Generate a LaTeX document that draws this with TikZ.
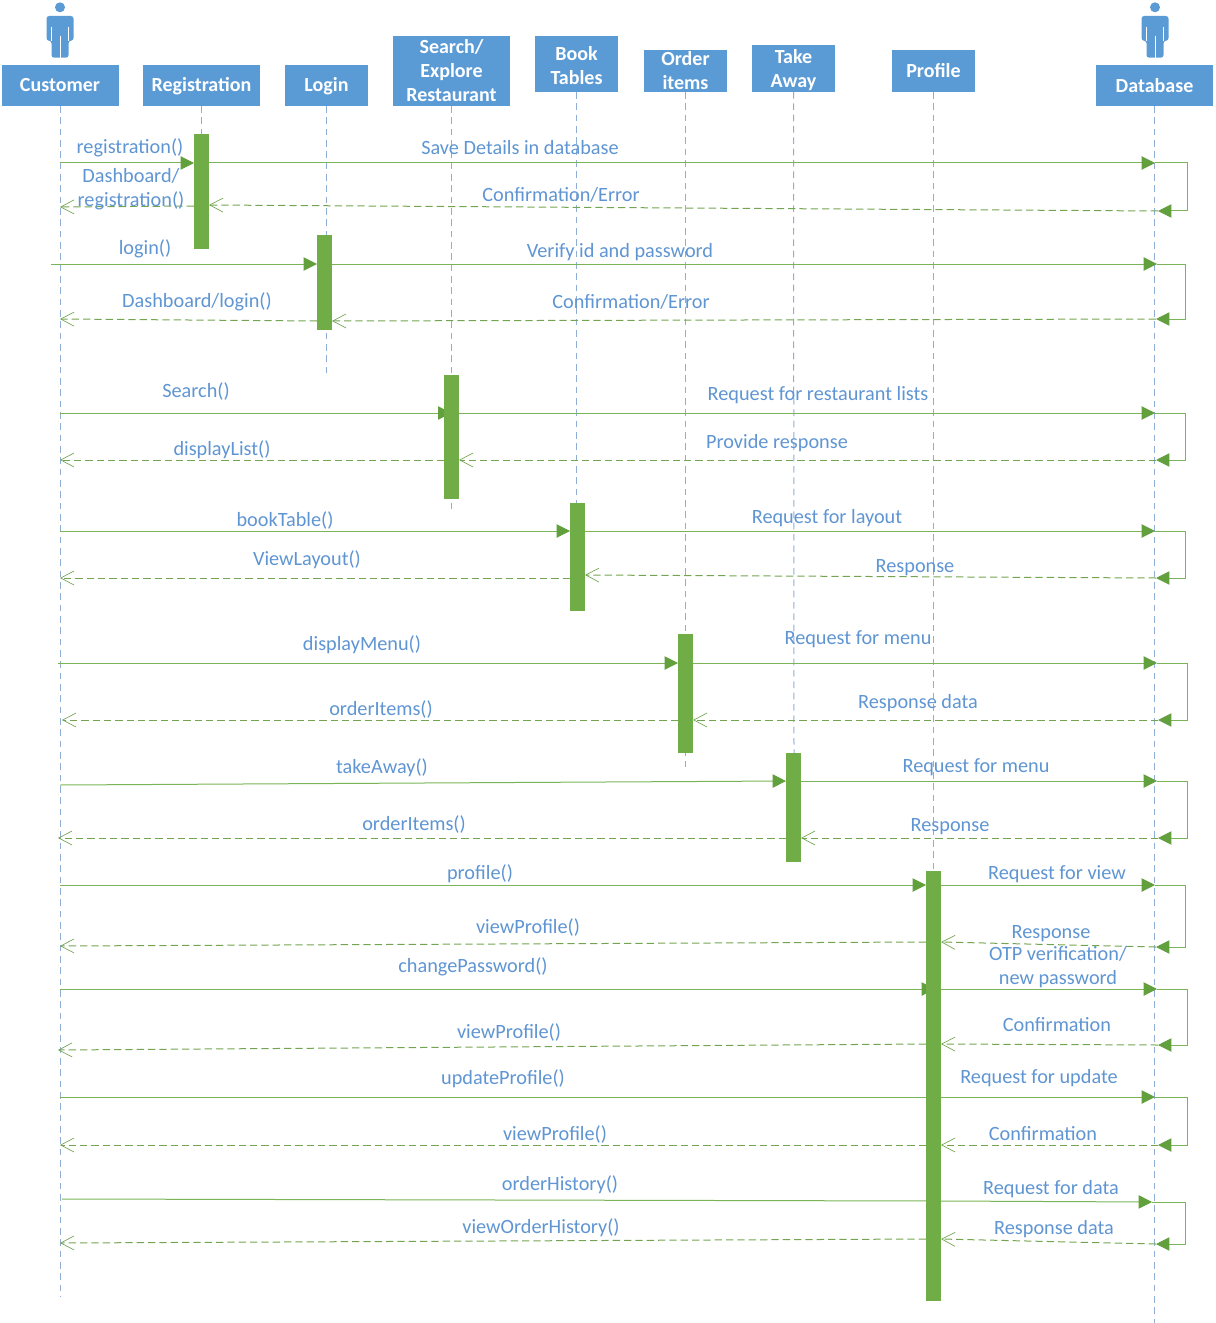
\documentclass[tikz,border=0pt]{standalone}
\usepackage{fontspec}
\setmainfont{Carlito}
\usetikzlibrary{arrows.meta,backgrounds}
\definecolor{headblue}{HTML}{5B9BD5}
\definecolor{textblue}{HTML}{5F95D2}
\definecolor{lifeblue}{HTML}{8FAED6}
\definecolor{bargreen}{HTML}{70AD47}
\definecolor{tipgreen}{HTML}{62A03E}
\tikzset{
  head/.style={fill=headblue, text=white, font=\fontsize{15}{18}\selectfont\bfseries, align=center, inner sep=0pt, outer sep=0pt, minimum width=62.25pt},
  headwide/.style={head, minimum width=87.75pt},
  bar/.style={fill=bargreen, inner sep=0pt, outer sep=0pt, minimum width=11.25pt},
  lifeline/.style={lifeblue, line width=0.75pt, dash pattern=on 5pt off 3.5pt},
  msg/.style={bargreen!92, line width=0.75pt, -{Triangle[length=10pt,width=10pt,color=tipgreen]}},
  reply/.style={bargreen!80!gray, line width=0.75pt, dash pattern=on 5.5pt off 3pt, -{Straight Barb[length=10pt,width=10.5pt,line width=0.5pt]}},
  lbl/.style={text=textblue, font=\fontsize{15.2}{18}\selectfont, align=center, inner sep=0pt},
  actor/.pic={
    \fill[headblue] (0,7.3) circle (5);
    \fill[headblue, rounded corners=2pt] (-13.5,16) -- (13.5,16) -- (13.5,40.7) -- (8.5,40.7) -- (8.5,57.7) -- (-8.5,57.7) -- (-8.5,40.7) -- (-13.5,40.7) -- cycle;
    \draw[white, line width=0.4pt] (0,36) -- (0,57.7);
    \draw[white, line width=0.3pt] (-8.5,27) -- (-8.5,40.7) (8.5,27) -- (8.5,40.7);
  }
}

\begin{document}
\begin{tikzpicture}[x=0.75pt, y=-0.75pt]
  \useasboundingbox (0,0) rectangle (1215,1323);

  \pic at (60,0) {actor};
  \pic at (1155,0) {actor};

  \node[headwide, minimum height=30.75pt] (customer) at (60,85.5) {Customer};
  \node[headwide, minimum height=30.75pt] (registration) at (201.5,85.5) {\rule{0pt}{12pt}Registration};
  \node[head, minimum height=30.75pt] (login) at (326.5,85.5) {\rule{0pt}{12pt}Login};
  \node[headwide, minimum height=52.5pt] (search) at (451.5,71) {Search/\\Explore\\Restaurant};
  \node[head, minimum height=42pt] (book) at (576.5,64) {\rule{0pt}{13pt}Book\\Tables};
  \node[head, minimum height=31.5pt] (order) at (685.5,71) {Order\\items};
  \node[head, minimum height=35.25pt] (take) at (793.5,68.5) {\rule{0pt}{13pt}Take\\Away};
  \node[head, minimum height=31.5pt] (profile) at (933.5,71) {Profile};
  \node[headwide, minimum height=30.75pt] (database) at (1154.5,85.5) {Database};

  \node[bar, minimum height=86.25pt] (regbar) at (201.5,191.5) {};
  \node[bar, minimum height=71.25pt] (loginbar) at (324.5,282.5) {};
  \node[bar, minimum height=93pt] (searchbar) at (451.5,437) {};
  \node[bar, minimum height=81pt] (bookbar) at (577.5,557) {};
  \node[bar, minimum height=89.25pt] (orderbar) at (685.5,693.5) {};
  \node[bar, minimum height=81.75pt] (takebar) at (793.5,807.5) {};
  \node[bar, minimum height=322.5pt] (profilebar) at (933.5,1086) {};

  \coordinate (customerend) at (60,1297);
  \coordinate (registrationend) at (201.5,140);
  \coordinate (loginend) at (326.5,378);
  \coordinate (searchend) at (451.5,513);
  \coordinate (bookend) at (576.5,510);
  \coordinate (orderend) at (685.5,767);
  \coordinate (takeend) at (794,760);
  \coordinate (profileend) at (933.5,880);
  \coordinate (databaseend) at (1154.5,1323);

  % registration
  \coordinate (c1a) at (60,163);
  \coordinate (c1b) at (60,207);
  \coordinate (d1a) at (1155,163);
  \coordinate (d1b) at (1158,211);
  \coordinate (r1a) at (0,205);
  \coordinate (r1b) at (0,206);
  % login
  \coordinate (c2a) at (51,264);
  \coordinate (c2b) at (60,319);
  \coordinate (d2a) at (1157,264);
  \coordinate (d2b) at (1156,319);
  \coordinate (r2a) at (0,321);
  % search
  \coordinate (c3a) at (60,413);
  \coordinate (c3b) at (60,460);
  \coordinate (d3a) at (1155,413);
  \coordinate (d3b) at (1156,460);
  % book tables
  \coordinate (c4a) at (60,531);
  \coordinate (c4b) at (60,578);
  \coordinate (d4a) at (1155,531);
  \coordinate (d4b) at (1156,578);
  \coordinate (r4a) at (0,575);
  % menu
  \coordinate (c5a) at (58,663);
  \coordinate (c5b) at (62,720);
  \coordinate (d5a) at (1157,663);
  \coordinate (d5b) at (1158,720);
  % take away
  \coordinate (c6a) at (60,785);
  \coordinate (c6b) at (58,838);
  \coordinate (d6a) at (1157,781);
  \coordinate (d6b) at (1158,838);
  \coordinate (r6a) at (0,781);
  % profile
  \coordinate (c7a) at (60,885);
  \coordinate (c7b) at (60,946);
  \coordinate (d7a) at (1155,885);
  \coordinate (d7b) at (1156,947);
  \coordinate (r7a) at (0,942);
  % change password
  \coordinate (c8a) at (60,989);
  \coordinate (c8b) at (58,1050);
  \coordinate (d8a) at (1157,989);
  \coordinate (d8b) at (1158,1045);
  \coordinate (r8a) at (0,1044);
  \coordinate (m8a) at (935,989);
  % update
  \coordinate (c9a) at (60,1097);
  \coordinate (c9b) at (60,1145);
  \coordinate (d9a) at (1155,1097);
  \coordinate (d9b) at (1158,1145);
  \coordinate (m9a) at (941,1097);
  % history
  \coordinate (c10a) at (62,1199);
  \coordinate (c10b) at (60,1243);
  \coordinate (d10a) at (1152,1202);
  \coordinate (d10b) at (1156,1244);
  \coordinate (r10a) at (0,1239);
  \coordinate (m10a) at (941,1201);

  \begin{scope}[on background layer]
    \draw[lifeline] (customer) -- (customerend);
    \draw[lifeline] (registration) -- (registrationend);
    \draw[lifeline] (login) -- (loginend);
    \draw[lifeline] (search) -- (searchend);
    \draw[lifeline] (book) -- (bookend);
    \draw[lifeline] (order) -- (orderend);
    \draw[lifeline] (take) -- (takeend);
    \draw[lifeline] (profile) -- (profileend);
    \draw[lifeline] (database) -- (databaseend);

    \draw[msg] (c1a) -- (regbar.west |- c1a);
    \draw[msg] (regbar.east |- c1a) -- (d1a);
    \draw[msg] (d1a) -- ++(32,0) |- (d1b);
    \draw[reply] (d1b) -- (regbar.east |- r1a);
    \draw[reply] (regbar.west |- r1b) -- (c1b);

    \draw[msg] (c2a) -- (loginbar.west |- c2a);
    \draw[msg] (loginbar.east |- c2a) -- (d2a);
    \draw[msg] (d2a) -- ++(28,0) |- (d2b);
    \draw[reply] (d2b) -- (loginbar.east |- r2a);
    \draw[reply] (loginbar.west |- r2a) -- (c2b);

    \draw[msg] (c3a) -- ([xshift=5.5pt]searchbar.west |- c3a);
    \draw[msg] (searchbar.east |- c3a) -- (d3a);
    \draw[msg] (d3a) -- ++(30,0) |- (d3b);
    \draw[reply] (d3b) -- (searchbar.east |- d3b);
    \draw[reply] (searchbar.west |- c3b) -- (c3b);

    \draw[msg] (c4a) -- (bookbar.west |- c4a);
    \draw[msg] (bookbar.east |- c4a) -- (d4a);
    \draw[msg] (d4a) -- ++(30,0) |- (d4b);
    \draw[reply] (d4b) -- (bookbar.east |- r4a);
    \draw[reply] (bookbar.west |- c4b) -- (c4b);

    \draw[msg] (c5a) -- (orderbar.west |- c5a);
    \draw[msg] (orderbar.east |- c5a) -- (d5a);
    \draw[msg] (d5a) -- ++(30,0) |- (d5b);
    \draw[reply] (d5b) -- (orderbar.east |- d5b);
    \draw[reply] (orderbar.west |- c5b) -- (c5b);

    \draw[msg] (c6a) -- (takebar.west |- r6a);
    \draw[msg] (takebar.east |- r6a) -- (d6a);
    \draw[msg] (d6a) -- ++(30,0) |- (d6b);
    \draw[reply] (d6b) -- (takebar.east |- d6b);
    \draw[reply] (takebar.west |- c6b) -- (c6b);

    \draw[msg] (c7a) -- (profilebar.west |- c7a);
    \draw[msg] (profilebar.east |- c7a) -- (d7a);
    \draw[msg] (d7a) -- ++(30,0) |- (d7b);
    \draw[reply] (d7b) -- (profilebar.east |- r7a);
    \draw[reply] (profilebar.west |- r7a) -- (c7b);

    \draw[msg] (c8a) -- (m8a);
    \draw[msg] (profilebar.east |- c8a) -- (d8a);
    \draw[msg] (d8a) -- ++(30,0) |- (d8b);
    \draw[reply] (d8b) -- (profilebar.east |- r8a);
    \draw[reply] (profilebar.west |- r8a) -- (c8b);

    \draw[msg] (c9a) -- (m9a);
    \draw[msg] (profilebar.east |- c9a) -- (d9a);
    \draw[msg] (d9a) -- ++(32,0) |- (d9b);
    \draw[reply] (d9b) -- (profilebar.east |- d9b);
    \draw[reply] (profilebar.west |- c9b) -- (c9b);

    \draw[msg] (c10a) -- (m10a);
    \draw[msg] (profilebar.east |- m10a) -- (d10a);
    \draw[msg] (d10a) -- ++(33,0) |- (d10b);
    \draw[reply] (d10b) -- (profilebar.east |- r10a);
    \draw[reply] (profilebar.west |- r10a) -- (c10b);
  \end{scope}

  \node[lbl] (t1) at (130,148) {registration()};
  \node[lbl] (t2) at (520,148) {Save Details in database};
  \node[lbl] (t3) at (131,189) {Dashboard/\\registration()};
  \node[lbl] (t4) at (561,195) {Confirmation/Error};
  \node[lbl] (t5) at (145,249) {login()};
  \node[lbl] (t6) at (620,252) {Verify id and password};
  \node[lbl] (t7) at (197,302) {Dashboard/login()};
  \node[lbl] (t8) at (631,302) {Confirmation/Error};
  \node[lbl] (t9) at (196,391) {Search()};
  \node[lbl] (t10) at (818,395) {Request for restaurant lists};
  \node[lbl] (t11) at (222,450) {displayList()};
  \node[lbl] (t12) at (777,443) {Provide response};
  \node[lbl] (t13) at (285,520) {bookTable()};
  \node[lbl] (t14) at (827,518) {Request for layout};
  \node[lbl] (t15) at (307,560) {ViewLayout()};
  \node[lbl] (t16) at (915,568) {Response};
  \node[lbl] (t17) at (362,645) {displayMenu()};
  \node[lbl] (t18) at (858,639) {Request for menu};
  \node[lbl] (t19) at (381,709) {orderItems()};
  \node[lbl] (t20) at (918,703) {Response data};
  \node[lbl] (t21) at (382,768) {takeAway()};
  \node[lbl] (t22) at (976,767) {Request for menu};
  \node[lbl] (t23) at (414,824) {orderItems()};
  \node[lbl] (t24) at (950,827) {Response};
  \node[lbl] (t25) at (480,874) {profile()};
  \node[lbl] (t26) at (1057,874) {Request for view};
  \node[lbl] (t27) at (528,927) {viewProfile()};
  \node[lbl] (t28) at (1051,934) {Response};
  \node[lbl] (t29) at (473,967) {changePassword()};
  \node[lbl] (t30) at (1058,967) {OTP verification/\\new password};
  \node[lbl] (t31) at (1057,1025) {Confirmation};
  \node[lbl] (t32) at (509,1032) {viewProfile()};
  \node[lbl] (t33) at (503,1079) {updateProfile()};
  \node[lbl] (t34) at (1039,1078) {Request for update};
  \node[lbl] (t35) at (555,1134) {viewProfile()};
  \node[lbl] (t36) at (1043,1134) {Confirmation};
  \node[lbl] (t37) at (560,1185) {orderHistory()};
  \node[lbl] (t38) at (1051,1189) {Request for data};
  \node[lbl] (t39) at (541,1228) {viewOrderHistory()};
  \node[lbl] (t40) at (1054,1229) {Response data};
\end{tikzpicture}
\end{document}
